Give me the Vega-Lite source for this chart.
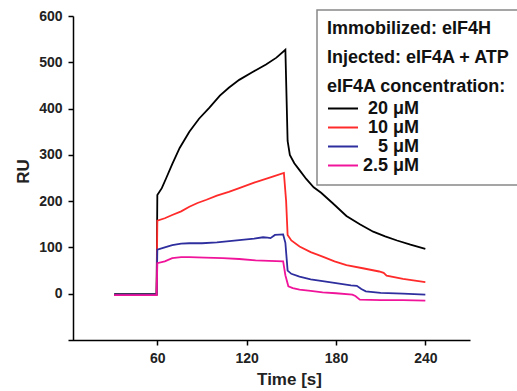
{
  "$schema": "https://vega.github.io/schema/vega-lite/v6.json",
  "autosize": {"type": "none"},
  "width": 402,
  "height": 324,
  "padding": {"left": 68, "top": 16, "right": 47, "bottom": 51},
  "background": "white",
  "data": {"values": [
    {"t": 31, "ru": -1, "c": "20 μM"}, {"t": 45, "ru": -1, "c": "20 μM"}, {"t": 59.5, "ru": -1, "c": "20 μM"},
    {"t": 60, "ru": 213, "c": "20 μM"}, {"t": 63, "ru": 228, "c": "20 μM"}, {"t": 66, "ru": 250, "c": "20 μM"},
    {"t": 70, "ru": 280, "c": "20 μM"}, {"t": 75, "ru": 315, "c": "20 μM"}, {"t": 81.5, "ru": 350, "c": "20 μM"},
    {"t": 88, "ru": 378, "c": "20 μM"}, {"t": 95, "ru": 402, "c": "20 μM"}, {"t": 102, "ru": 428, "c": "20 μM"},
    {"t": 108, "ru": 445, "c": "20 μM"}, {"t": 115, "ru": 462, "c": "20 μM"}, {"t": 124, "ru": 479, "c": "20 μM"},
    {"t": 133, "ru": 495, "c": "20 μM"}, {"t": 140, "ru": 510, "c": "20 μM"}, {"t": 146, "ru": 527, "c": "20 μM"},
    {"t": 147.5, "ru": 330, "c": "20 μM"}, {"t": 149, "ru": 300, "c": "20 μM"}, {"t": 152, "ru": 282, "c": "20 μM"},
    {"t": 155.5, "ru": 267, "c": "20 μM"}, {"t": 160, "ru": 248, "c": "20 μM"}, {"t": 165, "ru": 230, "c": "20 μM"},
    {"t": 170, "ru": 218, "c": "20 μM"}, {"t": 178, "ru": 195, "c": "20 μM"}, {"t": 187, "ru": 168, "c": "20 μM"},
    {"t": 196, "ru": 150, "c": "20 μM"}, {"t": 205, "ru": 134, "c": "20 μM"}, {"t": 213, "ru": 124, "c": "20 μM"},
    {"t": 221, "ru": 115, "c": "20 μM"}, {"t": 230, "ru": 106, "c": "20 μM"}, {"t": 240, "ru": 97, "c": "20 μM"},

    {"t": 31, "ru": -3, "c": "10 μM"}, {"t": 59.5, "ru": -3, "c": "10 μM"}, {"t": 60, "ru": 158, "c": "10 μM"},
    {"t": 65, "ru": 163, "c": "10 μM"}, {"t": 70, "ru": 170, "c": "10 μM"}, {"t": 76, "ru": 178, "c": "10 μM"},
    {"t": 81.5, "ru": 188, "c": "10 μM"}, {"t": 87, "ru": 196, "c": "10 μM"}, {"t": 93, "ru": 203, "c": "10 μM"},
    {"t": 100, "ru": 212, "c": "10 μM"}, {"t": 108, "ru": 220, "c": "10 μM"}, {"t": 115, "ru": 228, "c": "10 μM"},
    {"t": 125, "ru": 240, "c": "10 μM"}, {"t": 137.5, "ru": 253, "c": "10 μM"}, {"t": 145, "ru": 261, "c": "10 μM"},
    {"t": 146.5, "ru": 200, "c": "10 μM"}, {"t": 147.5, "ru": 127, "c": "10 μM"}, {"t": 150, "ru": 115, "c": "10 μM"},
    {"t": 155.5, "ru": 102, "c": "10 μM"}, {"t": 163, "ru": 90, "c": "10 μM"}, {"t": 171, "ru": 80, "c": "10 μM"},
    {"t": 179, "ru": 70, "c": "10 μM"}, {"t": 187, "ru": 62, "c": "10 μM"}, {"t": 198, "ru": 55, "c": "10 μM"},
    {"t": 209, "ru": 48, "c": "10 μM"}, {"t": 212, "ru": 45, "c": "10 μM"}, {"t": 214, "ru": 39, "c": "10 μM"},
    {"t": 225, "ru": 32, "c": "10 μM"}, {"t": 240, "ru": 25, "c": "10 μM"},

    {"t": 31, "ru": -2, "c": "5 μM"}, {"t": 59.5, "ru": -2, "c": "5 μM"}, {"t": 60, "ru": 95, "c": "5 μM"},
    {"t": 65, "ru": 100, "c": "5 μM"}, {"t": 70, "ru": 105, "c": "5 μM"}, {"t": 76, "ru": 108, "c": "5 μM"},
    {"t": 81.5, "ru": 109, "c": "5 μM"}, {"t": 90, "ru": 109, "c": "5 μM"}, {"t": 100, "ru": 111, "c": "5 μM"},
    {"t": 115, "ru": 116, "c": "5 μM"}, {"t": 125, "ru": 119, "c": "5 μM"}, {"t": 131, "ru": 122, "c": "5 μM"},
    {"t": 134, "ru": 121, "c": "5 μM"}, {"t": 136, "ru": 120, "c": "5 μM"}, {"t": 139, "ru": 127, "c": "5 μM"},
    {"t": 144.5, "ru": 128, "c": "5 μM"}, {"t": 146, "ru": 110, "c": "5 μM"}, {"t": 147.5, "ru": 50, "c": "5 μM"},
    {"t": 150, "ru": 43, "c": "5 μM"}, {"t": 155.5, "ru": 37, "c": "5 μM"}, {"t": 163, "ru": 31, "c": "5 μM"},
    {"t": 171, "ru": 27, "c": "5 μM"}, {"t": 180, "ru": 23, "c": "5 μM"}, {"t": 190, "ru": 18, "c": "5 μM"},
    {"t": 194, "ru": 17, "c": "5 μM"}, {"t": 197, "ru": 10, "c": "5 μM"}, {"t": 200, "ru": 5, "c": "5 μM"},
    {"t": 210, "ru": 2, "c": "5 μM"}, {"t": 225, "ru": 0, "c": "5 μM"}, {"t": 240, "ru": -2, "c": "5 μM"},

    {"t": 31, "ru": -3, "c": "2.5 μM"}, {"t": 59.5, "ru": -3, "c": "2.5 μM"}, {"t": 60, "ru": 66, "c": "2.5 μM"},
    {"t": 65, "ru": 70, "c": "2.5 μM"}, {"t": 70, "ru": 77, "c": "2.5 μM"}, {"t": 76, "ru": 79, "c": "2.5 μM"},
    {"t": 81.5, "ru": 79, "c": "2.5 μM"}, {"t": 92, "ru": 78, "c": "2.5 μM"}, {"t": 104, "ru": 77, "c": "2.5 μM"},
    {"t": 115, "ru": 75, "c": "2.5 μM"}, {"t": 126, "ru": 72, "c": "2.5 μM"}, {"t": 135, "ru": 71, "c": "2.5 μM"},
    {"t": 144.5, "ru": 70, "c": "2.5 μM"}, {"t": 146, "ru": 40, "c": "2.5 μM"}, {"t": 148, "ru": 16, "c": "2.5 μM"},
    {"t": 151, "ru": 12, "c": "2.5 μM"}, {"t": 155.5, "ru": 9, "c": "2.5 μM"}, {"t": 163, "ru": 6, "c": "2.5 μM"},
    {"t": 171, "ru": 3, "c": "2.5 μM"}, {"t": 180, "ru": 1, "c": "2.5 μM"}, {"t": 191, "ru": -2, "c": "2.5 μM"},
    {"t": 193, "ru": -5, "c": "2.5 μM"}, {"t": 196, "ru": -13, "c": "2.5 μM"}, {"t": 210, "ru": -14, "c": "2.5 μM"},
    {"t": 225, "ru": -14, "c": "2.5 μM"}, {"t": 240, "ru": -15, "c": "2.5 μM"}
  ]},
  "mark": {"type": "line", "strokeWidth": 1.8, "clip": true},
  "encoding": {
    "x": {
      "field": "t", "type": "quantitative",
      "scale": {"domain": [0, 270], "nice": false, "zero": false},
      "axis": {"values": [60, 120, 180, 240], "title": "Time [s]", "titleX": 221, "titlePadding": 6}
    },
    "y": {
      "field": "ru", "type": "quantitative",
      "scale": {"domain": [-100, 600], "nice": false, "zero": false},
      "axis": {"values": [0, 100, 200, 300, 400, 500, 600], "title": "RU", "offset": -5, "titleY": 155, "titlePadding": 6}
    },
    "color": {
      "field": "c", "type": "nominal",
      "scale": {"domain": ["20 μM", "10 μM", "5 μM", "2.5 μM"], "range": ["#000000", "#ff2a2a", "#2e2e9e", "#f0149a"]},
      "legend": {"title": ["Immobilized: eIF4H", "Injected: eIF4A + ATP", "eIF4A concentration:"]}
    },
    "order": {"field": "t", "type": "quantitative"}
  },
  "config": {
    "view": {"stroke": null},
    "axis": {
      "grid": false,
      "domainColor": "#000", "domainWidth": 1.5,
      "tickColor": "#000", "tickWidth": 1.5, "tickSize": 5,
      "labelFont": "Liberation Sans", "labelFontWeight": "bold", "labelFontSize": 14, "labelColor": "#222",
      "labelPadding": 6,
      "titleFont": "Liberation Sans", "titleFontWeight": "bold", "titleFontSize": 17, "titleColor": "#222"
    },
    "legend": {
      "orient": "none", "legendX": 249, "legendY": -6,
      "titleFont": "Liberation Sans", "titleFontWeight": "bold", "titleFontSize": 18, "titleColor": "#111",
      "titleLineHeight": 29, "titlePadding": 3, "titleLimit": 400,
      "labelFont": "Liberation Sans", "labelFontWeight": "bold", "labelFontSize": 18, "labelColor": "#111",
      "labelAlign": "right", "labelOffset": 60,
      "symbolType": "stroke", "symbolSize": 900, "symbolStrokeWidth": 2,
      "clipHeight": 19, "rowPadding": 0,
      "strokeColor": "#888", "strokeWidth": 1.5, "fillColor": "white", "padding": 10
    }
  }
}
